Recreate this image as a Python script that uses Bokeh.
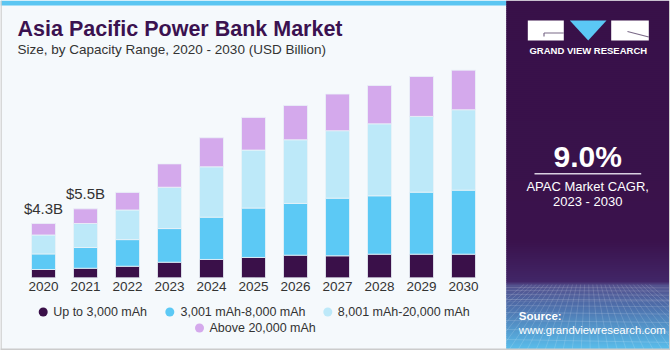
import numpy as np
from bokeh.plotting import figure
from bokeh.models import Range1d, ColumnDataSource
from bokeh.core.properties import value
from bokeh.embed import file_html
from bokeh.resources import INLINE

# ---------------- data ----------------
years = [2020, 2021, 2022, 2023, 2024, 2025, 2026, 2027, 2028, 2029, 2030]
up_to_3000 = [0.66, 0.76, 0.92, 1.24, 1.46, 1.62, 1.80, 1.75, 1.88, 1.88, 1.88]
mah_3001_8000 = [1.24, 1.65, 2.12, 2.68, 3.37, 3.93, 4.12, 4.59, 4.65, 4.94, 5.10]
mah_8001_20000 = [1.51, 1.91, 2.36, 3.29, 4.01, 4.62, 5.07, 5.37, 5.73, 6.03, 6.40]
above_20000 = [0.91, 1.17, 1.40, 1.86, 2.31, 2.60, 2.73, 2.92, 3.05, 3.18, 3.15]
series_names = ["Up to 3,000 mAh", "3,001 mAh-8,000 mAh", "8,001 mAh-20,000 mAh", "Above 20,000 mAh"]
series_colors = ["#3A1049", "#5CC9F5", "#BDE9F9", "#D4A9EC"]
annot_years = [2020, 2021]
annot_text = ["$4.3B", "$5.5B"]
title_text = "Asia Pacific Power Bank Market"
subtitle_text = "Size, by Capacity Range, 2020 - 2030 (USD Billion)"
cagr_value = "9.0%"
cagr_lines = ["APAC Market CAGR,", "2023 - 2030"]

FONT = "Liberation Sans"
W, H = 670, 350
PX_PER_UNIT = 12.56
BASE_FROM_TOP = 277.3
X0, DX = 43.0, 42.0

p = figure(width=W, height=H, output_backend="svg", toolbar_location=None,
           x_range=Range1d(years[0] - X0 / DX, years[0] + (W - X0) / DX),
           y_range=Range1d(-(H - BASE_FROM_TOP) / PX_PER_UNIT, BASE_FROM_TOP / PX_PER_UNIT),
           x_axis_type=None, y_axis_type=None, min_border=0)
p.grid.visible = False
p.outline_line_color = None
p.background_fill_color = "#F5F9FC"
p.border_fill_color = "#F5F9FC"
p.extra_x_ranges = {"px": Range1d(0, W)}
p.extra_y_ranges = {"px": Range1d(H, 0)}

def txt(x, y, text, size, color="#333333", style="normal", align="left", xr="px", yr="px"):
    kw = {}
    if xr:
        kw["x_range_name"] = xr
    if yr:
        kw["y_range_name"] = yr
    p.text(x=x, y=y, text=text, text_font=value(FONT), text_font_size=size, text_font_style=style,
           text_color=color, text_align=align, text_baseline="middle", **kw)

# top blue strip
p.quad(left=[0], right=[506], top=[0], bottom=[5], color="#5BC6F2", line_color=None,
       x_range_name="px", y_range_name="px")

# ---------------- bars ----------------
keys = ["s0", "s1", "s2", "s3"]
src = ColumnDataSource(dict(year=years, s0=up_to_3000, s1=mah_3001_8000, s2=mah_8001_20000, s3=above_20000))
p.vbar_stack(keys, x="year", width=24 / 42, source=src, color=series_colors,
             line_color="#EAF3F8", line_width=0.8)

totals = [a + b + c + d for a, b, c, d in zip(up_to_3000, mah_3001_8000, mah_8001_20000, above_20000)]
ann_y = [totals[years.index(y)] + 15.5 / PX_PER_UNIT for y in annot_years]
txt(annot_years, ann_y, annot_text, "15px", align="center", xr=None, yr=None)

# year labels
txt(years, [286] * len(years), [str(y) for y in years], "13.5px", align="center", xr=None)

# titles
txt([17], [28], [title_text], "21.5px", color="#3B1250", style="bold")
txt([17], [49], [subtitle_text], "13.5px")

# legend (manual, two centred rows)
leg_cx = [42.7, 169.3, 327.3, 199.0]
leg_tx = [52.7, 180.0, 337.3, 209.0]
leg_y = [311.5, 311.5, 311.5, 327.5]
p.scatter(x=leg_cx, y=leg_y, size=9, color=series_colors, line_color=None,
          x_range_name="px", y_range_name="px")
txt(leg_tx, leg_y, series_names, "12.5px")

# ---------------- right panel ----------------
PL, PR = 505.7, 668.5
stops = [(0, (56, 17, 73)), (240, (58, 18, 76)), (282, (66, 38, 104)), (284, (84, 80, 140)),
         (305, (78, 110, 170)), (349, (90, 190, 235))]
band_top, band_bot, band_col = [], [], []
for i in range(len(stops) - 1):
    y0, c0 = stops[i]
    y1, c1 = stops[i + 1]
    n = max(1, int((y1 - y0) / 2))
    for k in range(n):
        t = (k + 0.5) / n
        c = tuple(int(round(c0[j] + (c1[j] - c0[j]) * t)) for j in range(3))
        band_top.append(y0 + (y1 - y0) * k / n)
        band_bot.append(y0 + (y1 - y0) * (k + 1) / n + 0.5)
        band_col.append("#%02x%02x%02x" % c)
p.quad(left=[PL] * len(band_top), right=[PR] * len(band_top), top=band_top, bottom=band_bot,
       color=band_col, line_color=None, x_range_name="px", y_range_name="px")

# faint perspective grid
gx, gy = [], []
for hy in [287, 290, 294, 299, 305, 312, 320, 329, 339]:
    gx.append([PL, PR]); gy.append([hy, hy + (hy - 280) * 0.05])
for vx in np.arange(PL - 60, PR + 60, 9):
    gx.append([587 + (vx - 587) * 0.45, vx]); gy.append([284, 349])
p.multi_line(xs=gx, ys=gy, line_color="white", line_alpha=0.18, line_width=0.8,
             x_range_name="px", y_range_name="px")

# logo
p.quad(left=[527.3, 610.7], right=[563.3, 648.3], top=[20, 20], bottom=[40, 40], color="white",
       line_color=None, x_range_name="px", y_range_name="px")
p.patch(x=[569.3, 606.0, 587.7], y=[20, 20, 40], color="#5BC8F5", line_color=None,
        x_range_name="px", y_range_name="px")
p.multi_line(xs=[[543.5, 563.3], [543.5, 543.5], [627, 648.3]], ys=[[32.5, 32.5], [32.5, 36], [31, 36.5]],
             line_color="#7A6A88", line_width=1.2, x_range_name="px", y_range_name="px")
txt([587.8], [50], ["GRAND VIEW RESEARCH"], "9.5px", color="white", style="bold", align="center")

# CAGR
txt([587.2], [155.5], [cagr_value], "30px", color="white", style="bold", align="center")
p.segment(x0=[534], x1=[640.7], y0=[173.3], y1=[173.3], line_color="#D8D0E0", line_width=1.5,
          x_range_name="px", y_range_name="px")
txt([587.2, 587.2], [186, 200.5], cagr_lines, "13px", color="white", align="center")

# source
txt([518.3], [315.3], ["Source:"], "11.5px", color="white", style="bold")
txt([518.3], [329.7], ["www.grandviewresearch.com"], "11.3px", color="white")

# outer border
p.multi_line(xs=[[0.5, 0.5], [0, W], [669.3, 669.3]], ys=[[0, H], [348.8, 348.8], [0, H]],
             line_color="#CCCCCC", line_width=1.5, x_range_name="px", y_range_name="px")

open("out.html", "w").write(file_html(p, INLINE))
